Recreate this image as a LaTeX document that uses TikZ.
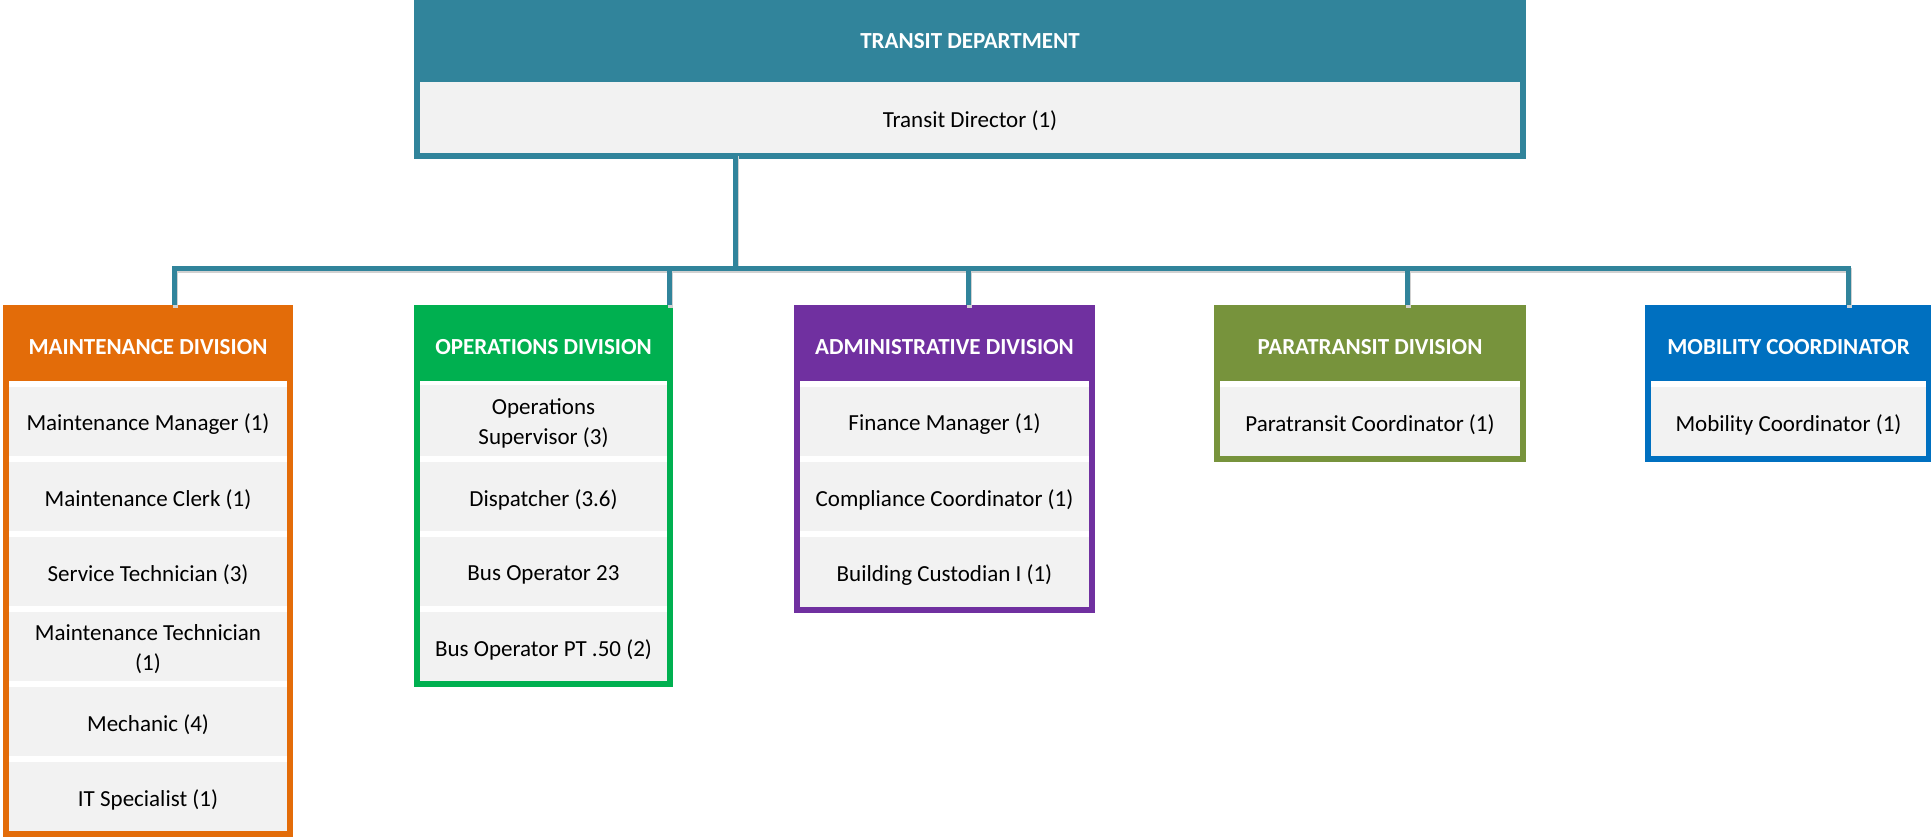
\documentclass[tikz,border=0pt]{standalone}
\usepackage{fontspec}
\setmainfont{Carlito}
\usetikzlibrary{fit}
\definecolor{teal1}{HTML}{31849B}
\definecolor{orange1}{HTML}{E36C09}
\definecolor{green1}{HTML}{00B050}
\definecolor{purple1}{HTML}{7030A0}
\definecolor{olive1}{HTML}{77933C}
\definecolor{blue1}{HTML}{0070C0}
\definecolor{grey1}{HTML}{F2F2F2}
\tikzset{
  divframe/.style={inner sep=0pt, outer sep=0pt, fill=#1},
  divinner/.style={inner sep=0pt, outer sep=0pt, fill=white},
  itembox/.style={inner sep=0pt, outer sep=0pt, fill=grey1},
  itemtext/.style={font=\fontsize{11.5}{15}\selectfont, align=center, text=black, inner sep=0pt, anchor=center, yshift=-1.5pt},
  headtext/.style={font=\fontsize{11.5}{15}\selectfont\bfseries, text=white, inner sep=0pt},
  conn/.style={draw=teal1, line width=2.5pt, line join=miter},
  connshadow/.style={draw=black!18, line width=2.5pt, line join=miter, transform canvas={shift={(0.8pt,-1.3pt)}}},
}
\begin{document}
\begin{tikzpicture}[x=0.5pt,y=-0.5pt]
\useasboundingbox (0,0) rectangle (1931,837);
% Transit department
\node[divframe=teal1, fit={(414,0)(1526,159)}] (top) {};
\node[itembox, fit={(420,82)(1520,153)}] (dir) {};
\node[itemtext] (dirt) at (dir) {Transit Director (1)};
\node[headtext] (tophead) at (970,41) {TRANSIT DEPARTMENT};
% Maintenance
\node[divframe=orange1, fit={(3,305)(293,837)}] (maint) {};
\node[divinner, fit={(9,381)(287,831)}] (maintin) {};
\node[headtext] (mainthead) at (148,347) {MAINTENANCE DIVISION};
\node[itembox, fit={(9,387)(287,456)}] (m1) {};
\node[itembox, fit={(9,462)(287,531)}] (m2) {};
\node[itembox, fit={(9,537)(287,606)}] (m3) {};
\node[itembox, fit={(9,612)(287,681)}] (m4) {};
\node[itembox, fit={(9,687)(287,756)}] (m5) {};
\node[itembox, fit={(9,762)(287,831)}] (m6) {};
\node[itemtext] (m1t) at (m1) {Maintenance Manager (1)};
\node[itemtext] (m2t) at (m2) {Maintenance Clerk (1)};
\node[itemtext] (m3t) at (m3) {Service Technician (3)};
\node[itemtext] (m4t) at (m4) {Maintenance Technician\\(1)};
\node[itemtext] (m5t) at (m5) {Mechanic (4)};
\node[itemtext] (m6t) at (m6) {IT Specialist (1)};
% Operations
\node[divframe=green1, fit={(414,305)(673,687)}] (ops) {};
\node[divinner, fit={(420,381)(667,681)}] (opsin) {};
\node[headtext] (opshead) at (543.5,347) {OPERATIONS DIVISION};
\node[itembox, fit={(420,385)(667,456)}] (o1) {};
\node[itembox, fit={(420,462)(667,531)}] (o2) {};
\node[itembox, fit={(420,537)(667,606)}] (o3) {};
\node[itembox, fit={(420,612)(667,681)}] (o4) {};
\node[itemtext] (o1t) at (o1) {Operations\\Supervisor (3)};
\node[itemtext] (o2t) at (o2) {Dispatcher (3.6)};
\node[itemtext] (o3t) at (o3) {Bus Operator 23};
\node[itemtext] (o4t) at (o4) {Bus Operator PT .50 (2)};
% Administrative
\node[divframe=purple1, fit={(794,305)(1095,613)}] (adm) {};
\node[divinner, fit={(800,381)(1089,607)}] (admin) {};
\node[headtext] (admhead) at (944.5,347) {ADMINISTRATIVE DIVISION};
\node[itembox, fit={(800,387)(1089,456)}] (a1) {};
\node[itembox, fit={(800,462)(1089,531)}] (a2) {};
\node[itembox, fit={(800,537)(1089,607)}] (a3) {};
\node[itemtext] (a1t) at (a1) {Finance Manager (1)};
\node[itemtext] (a2t) at (a2) {Compliance Coordinator (1)};
\node[itemtext] (a3t) at (a3) {Building Custodian I (1)};
% Paratransit
\node[divframe=olive1, fit={(1214,305)(1526,462)}] (para) {};
\node[divinner, fit={(1220,381)(1520,456)}] (parain) {};
\node[headtext] (parahead) at (1370,347) {PARATRANSIT DIVISION};
\node[itembox, fit={(1220,387)(1520,456)}] (p1) {};
\node[itemtext] (p1t) at (p1) {Paratransit Coordinator (1)};
% Mobility
\node[divframe=blue1, fit={(1645,305)(1931,462)}] (mob) {};
\node[divinner, fit={(1651,381)(1926,456)}] (mobin) {};
\node[headtext] (mobhead) at (1788.5,347) {MOBILITY COORDINATOR};
\node[itembox, fit={(1651,387)(1926,456)}] (b1) {};
\node[itemtext] (b1t) at (b1) {Mobility Coordinator (1)};
% connectors
\coordinate (jt) at (735,268);
\coordinate (jl) at (174,268);
\coordinate (jo) at (669,268);
\coordinate (ja) at (968,268);
\coordinate (jp) at (1407,268);
\coordinate (jr) at (1848,268);
\foreach \s in {connshadow, conn} {
  \draw[\s] (jt |- dir.south) -- (jt);
  \draw[\s] (jl |- maint.north) -- (jl) -- (jr) -- (jr |- mob.north);
  \draw[\s] (jo) -- (jo |- ops.north);
  \draw[\s] (ja) -- (ja |- adm.north);
  \draw[\s] (jp) -- (jp |- para.north);
}
\end{tikzpicture}
\end{document}
